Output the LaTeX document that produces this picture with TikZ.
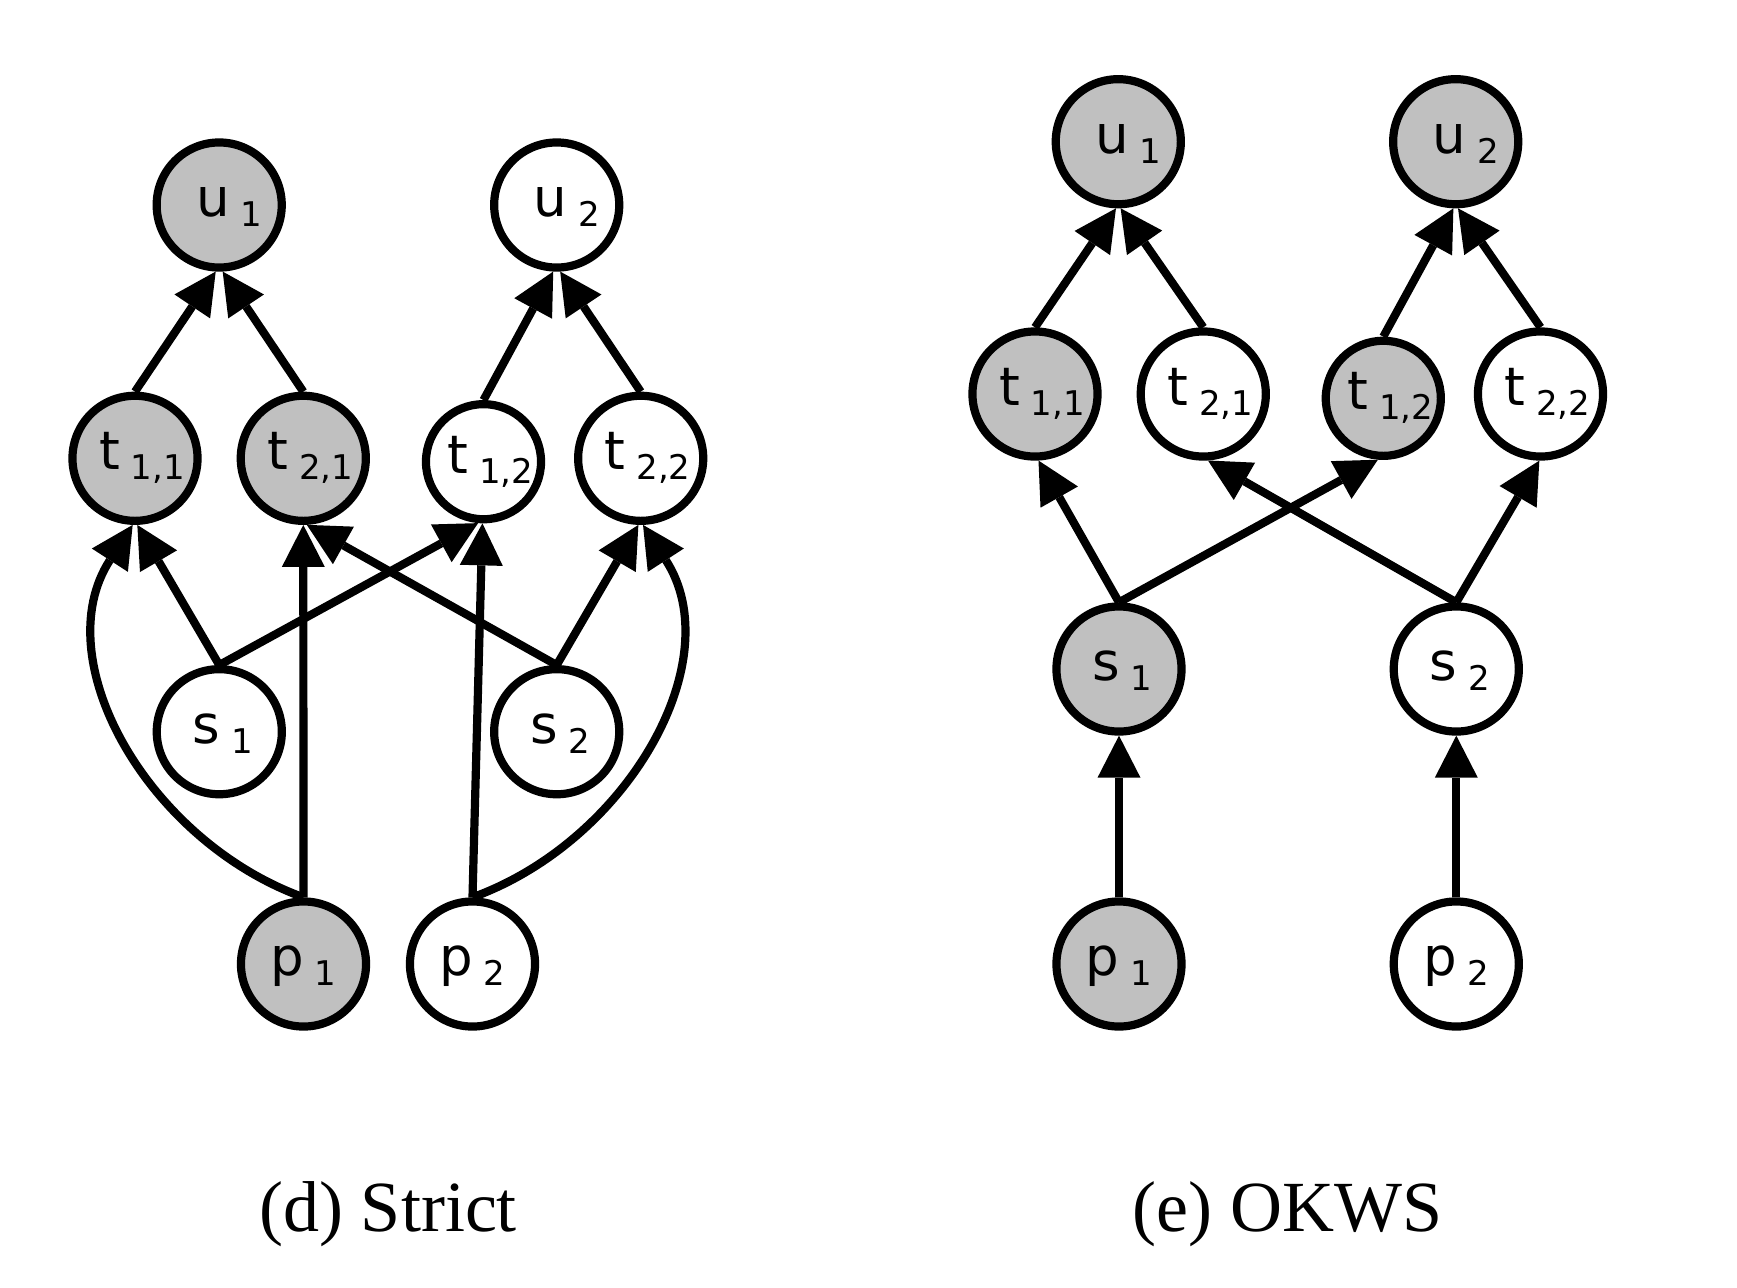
\documentclass[tikz,border=0pt]{standalone}
\usepackage{fontspec}
\setmainfont{Liberation Serif}
\newfontfamily\labfont{DejaVu Sans}
\usetikzlibrary{arrows.meta}
\definecolor{nodegray}{RGB}{192,192,192}
\newcommand{\lbl}[3]{\hspace*{#1}{\fontsize{26.5}{30}\selectfont #2}\raisebox{-5pt}{\fontsize{17}{20}\selectfont\ #3}}
\tikzset{
  vtx/.style={circle, draw=black, line width=4.1pt, minimum size=62.55pt, inner sep=0pt,
    font=\labfont, text height=14pt, text depth=2.4pt, fill=white},
  vtxg/.style={vtx, fill=nodegray},
  smallv/.style={minimum size=57.55pt},
  edge/.style={line width=4.1pt, -{Triangle[length=21pt, width=21.5pt, line width=0pt]}},
  captext/.style={font=\fontsize{36}{40}\selectfont, anchor=base, inner sep=0pt}
}
\begin{document}
\begin{tikzpicture}[x=0.5pt, y=-0.5pt]
\useasboundingbox (0,0) rectangle (1737,1287);
% ---------- (d) Strict ----------
\node[vtxg] (du1) at (219.2,205) {\lbl{10pt}{u}{1}};
\node[vtx]  (du2) at (556.7,205) {\lbl{10pt}{u}{2}};
\node[vtxg] (dt11) at (135,458.3) {\lbl{7pt}{t}{1,1}};
\node[vtxg] (dt21) at (303.3,458.3) {\lbl{7pt}{t}{2,1}};
\node[vtx,smallv] (dt12) at (483.5,461.7) {\lbl{7pt}{t}{1,2}};
\node[vtx]  (dt22) at (640.7,458.3) {\lbl{7pt}{t}{2,2}};
\node[vtx]  (ds1) at (219.3,731.7) {\lbl{3.5pt}{s}{1}};
\node[vtx]  (ds2) at (556.7,731.7) {\lbl{3.5pt}{s}{2}};
\node[vtxg] (dp1) at (303.5,964) {\lbl{0pt}{p}{1}};
\node[vtx]  (dp2) at (472.5,964) {\lbl{0pt}{p}{2}};
\draw[edge] (dt11.north) -- (du1.-93);
\draw[edge] (dt21.north) -- (du1.-87);
\draw[edge] (dt12.north) -- (du2.-93);
\draw[edge] (dt22.north) -- (du2.-87);
\draw[edge] (ds1.north) -- (dt11.-88);
\draw[edge] (ds1.north) -- (dt12.-95);
\draw[edge] (ds2.north) -- (dt21.-87);
\draw[edge] (ds2.north) -- (dt22.-92);
\draw[edge] (dp1.north) -- (dt21.south);
\draw[edge] (dp2.north) -- (dt12.-91);
\draw[edge] (dp1.north) .. controls +(-155.1,-56.1) and +(-87.5,135.3) .. (dt11.-92);
\draw[edge] (dp2.north) .. controls +(155.1,-56.1) and +(87.5,135.3) .. (dt22.-88);
\node[captext] (capd) at (388,1231.7) {(d) Strict};
% ---------- (e) OKWS ----------
\node[vtxg] (eu1) at (1118.3,141.7) {\lbl{10pt}{u}{1}};
\node[vtxg] (eu2) at (1455.7,141.7) {\lbl{10pt}{u}{2}};
\node[vtxg] (et11) at (1035,394) {\lbl{7pt}{t}{1,1}};
\node[vtx]  (et21) at (1203.3,394) {\lbl{7pt}{t}{2,1}};
\node[vtxg,smallv] (et12) at (1383.3,398.3) {\lbl{7pt}{t}{1,2}};
\node[vtx]  (et22) at (1540.5,394) {\lbl{7pt}{t}{2,2}};
\node[vtxg] (es1) at (1119,669) {\lbl{3.5pt}{s}{1}};
\node[vtx]  (es2) at (1456.3,669) {\lbl{3.5pt}{s}{2}};
\node[vtxg] (ep1) at (1119,964) {\lbl{0pt}{p}{1}};
\node[vtx]  (ep2) at (1456.3,964) {\lbl{0pt}{p}{2}};
\draw[edge] (et11.north) -- (eu1.-92);
\draw[edge] (et21.north) -- (eu1.-88);
\draw[edge] (et12.north) -- (eu2.-92);
\draw[edge] (et22.north) -- (eu2.-88);
\draw[edge] (es1.north) -- (et11.-87);
\draw[edge] (es1.north) -- (et12.-95);
\draw[edge] (es2.north) -- (et21.-86);
\draw[edge] (es2.north) -- (et22.-91);
\draw[edge] (ep1.north) -- (es1.south);
\draw[edge] (ep2.north) -- (es2.south);
\node[captext] (cape) at (1287.7,1231.7) {(e) OKWS};
\end{tikzpicture}
\end{document}
